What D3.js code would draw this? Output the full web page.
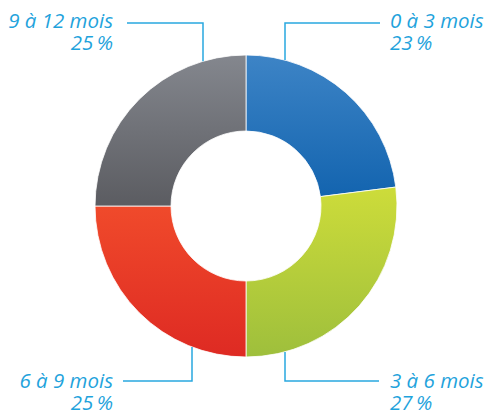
<!DOCTYPE html>
<html>
<head>
<meta charset="utf-8">
<script src="https://cdn.jsdelivr.net/npm/d3@7"></script>
<style>
  body { margin: 0; background: #fff; }
  svg { display: block; }
  .lbl { font-family: "Open Sans", sans-serif; font-style: italic; font-size: 20.5px; fill: #1fa3dc; }
</style>
</head>
<body>
<div id="chart"></div>
<script>
// data
const categories = ["0 à 3 mois", "3 à 6 mois", "6 à 9 mois", "9 à 12 mois"];
const values = [23, 27, 25, 25];
const gradTop = ["#3d84c6", "#cddc3a", "#f04a2b", "#84878e"];
const gradBottom = ["#1364af", "#9ebf3c", "#de2a23", "#5b5c61"];

const width = 489, height = 412;
const cx = 246, cy = 206;
const outerR = 151, innerR = 75;
const lineColor = "#29a8e0";

const svg = d3.select("#chart").append("svg")
  .attr("width", width)
  .attr("height", height);

const defs = svg.append("defs");
categories.forEach((c, i) => {
  const g = defs.append("linearGradient")
    .attr("id", "g" + i)
    .attr("x1", 0).attr("y1", 0).attr("x2", 0).attr("y2", 1);
  g.append("stop").attr("offset", "0%").attr("stop-color", gradTop[i]);
  g.append("stop").attr("offset", "100%").attr("stop-color", gradBottom[i]);
});

const pie = d3.pie().sort(null).value(d => d)(values);
const arc = d3.arc().innerRadius(innerR).outerRadius(outerR);

const chart = svg.append("g").attr("transform", `translate(${cx},${cy})`);
chart.selectAll("path")
  .data(pie)
  .join("path")
  .attr("d", arc)
  .attr("fill", (d, i) => `url(#g${i})`)
  .attr("stroke", "#fff")
  .attr("stroke-width", 0.8);

// leader line layout: x offset of vertical segment, elbow y, horizontal end x, text side
const layout = [
  { dx: 39,  elbowY: 23,  endX: 380, side: "right", textY: 28 },
  { dx: 39,  elbowY: 381, endX: 379, side: "right", textY: 388 },
  { dx: -54, elbowY: 381, endX: 123, side: "left",  textY: 388 },
  { dx: -43, elbowY: 23,  endX: 127, side: "left",  textY: 28 }
];

const labels = svg.append("g");
pie.forEach((p, i) => {
  const L = layout[i];
  const x = cx + L.dx;
  const mid = (p.startAngle + p.endAngle) / 2;
  const top = Math.cos(mid) > 0;
  const edgeY = cy + (top ? -1 : 1) * Math.sqrt(outerR * outerR - L.dx * L.dx);
  labels.append("path")
    .attr("d", d3.line()([[x, edgeY], [x, L.elbowY], [L.endX, L.elbowY]]))
    .attr("fill", "none")
    .attr("stroke", lineColor)
    .attr("stroke-width", 1.5);

  const tx = L.side === "right" ? 390 : 113;
  const anchor = L.side === "right" ? "start" : "end";
  labels.append("text")
    .attr("class", "lbl")
    .attr("text-anchor", anchor)
    .attr("x", tx)
    .attr("y", L.textY)
    .text(categories[i]);
  labels.append("text")
    .attr("class", "lbl")
    .attr("text-anchor", anchor)
    .attr("x", tx)
    .attr("y", L.textY + 22)
    .text(values[i] + "\u2009%");
});
</script>
</body>
</html>
